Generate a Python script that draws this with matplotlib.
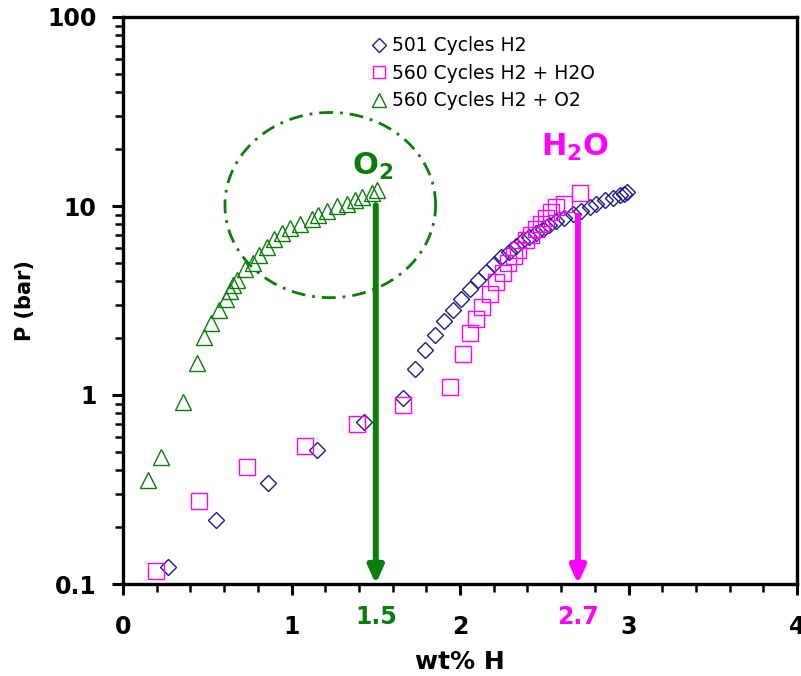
import numpy as np
import matplotlib
matplotlib.use("Agg")
import matplotlib.pyplot as plt

# 501 cycles, pure H2
h2_wt = [0.265, 0.55, 0.859, 1.153, 1.432, 1.664, 1.733, 1.79, 1.853, 1.907, 1.958, 2.008,
         2.058, 2.109, 2.153, 2.2, 2.246, 2.29, 2.33, 2.37, 2.41, 2.45, 2.49, 2.53, 2.571,
         2.62, 2.67, 2.72, 2.77, 2.81, 2.86, 2.91, 2.95, 2.975, 2.99]
h2_p = [0.123, 0.217, 0.344, 0.51, 0.72, 0.96, 1.37, 1.74, 2.08, 2.46, 2.83, 3.23,
        3.62, 4.05, 4.49, 4.92, 5.34, 5.74, 6.11, 6.5, 6.84, 7.22, 7.59, 7.94, 8.28,
        8.69, 9.06, 9.44, 9.93, 10.3, 10.7, 11.0, 11.4, 11.6, 11.9]

# 560 cycles, H2 + H2O
h2o_wt = [0.196, 0.453, 0.738, 1.08, 1.39, 1.664, 1.94, 2.018, 2.058, 2.093, 2.129, 2.181,
          2.215, 2.253, 2.285, 2.32, 2.346, 2.39, 2.42, 2.45, 2.48, 2.51, 2.54, 2.57, 2.62, 2.71]
h2o_p = [0.117, 0.275, 0.414, 0.537, 0.70, 0.89, 1.1, 1.65, 2.12, 2.52, 2.91, 3.41,
         3.97, 4.43, 4.98, 5.41, 5.87, 6.57, 7.01, 7.53, 8.01, 8.69, 9.25, 9.84, 10.2, 11.7]

# 560 cycles, H2 + O2
o2_wt = [0.15, 0.225, 0.358, 0.437, 0.483, 0.52, 0.57, 0.611, 0.635, 0.655, 0.675, 0.724,
         0.773, 0.809, 0.853, 0.896, 0.942, 0.991, 1.05, 1.12, 1.159, 1.209, 1.268, 1.327,
         1.377, 1.416, 1.475, 1.505]
o2_p = [0.355, 0.47, 0.92, 1.47, 2.02, 2.39, 2.82, 3.21, 3.55, 3.82, 4.06, 4.62,
        5.01, 5.5, 6.09, 6.66, 7.17, 7.62, 8.03, 8.5, 8.96, 9.44, 10.0, 10.3,
        10.7, 11.2, 11.7, 12.2]

labels = ["501 Cycles H2", "560 Cycles H2 + H2O", "560 Cycles H2 + O2"]
x_ticks = [0, 1, 2, 3, 4]
y_ticks = [0.1, 1, 10, 100]
y_tick_labels = ["0.1", "1", "10", "100"]

# capacity markers (wt% H) and where the arrows start (bar)
o2_cap, o2_arrow_top = 1.5, 10.1
h2o_cap, h2o_arrow_top = 2.7, 8.9

navy = "#1c1c8c"
magenta = "#ff00ff"
green = "#0a7d0a"

plt.rcParams["mathtext.fontset"] = "dejavusans"

fig = plt.figure(figsize=(8.01, 6.76), dpi=100)
ax = fig.add_axes([123 / 801, 92 / 676, 674 / 801, 567 / 676])

ax.plot(h2_wt, h2_p, ls="none", marker="D", ms=8.5, mfc="none", mec=navy, mew=1.0, label=labels[0])
ax.plot(h2o_wt, h2o_p, ls="none", marker="s", ms=11.5, mfc="none", mec=magenta, mew=1.0, label=labels[1])
ax.plot(o2_wt, o2_p, ls="none", marker="^", ms=12, mfc="none", mec=green, mew=1.0, label=labels[2])

# dash-dot ellipse around the O2 plateau (drawn in wt% / log10 P space)
t = np.linspace(0, 2 * np.pi, 300)
ax.plot(1.23 + 0.625 * np.cos(t), 10 ** (1.005 + 0.49 * np.sin(t)),
        color=green, lw=2.0, ls=(0, (5, 2.5, 1, 2.5)))

for cap, top, col in [(o2_cap, o2_arrow_top, green), (h2o_cap, h2o_arrow_top, magenta)]:
    ax.annotate("", xy=(cap, 0.1), xytext=(cap, top),
                arrowprops=dict(arrowstyle="-|>,head_width=0.45,head_length=1.0",
                                lw=4.3, color=col, shrinkA=0, shrinkB=0),
                zorder=5)

ax.text(1.48, 16.2, r"$\mathbf{O_2}$", color=green, fontsize=22, ha="center", va="center")
ax.text(2.68, 20.3, r"$\mathbf{H_2O}$", color=magenta, fontsize=22, ha="center", va="center")

ax.set_yscale("log")
ax.set_xlim(0, 4)
ax.set_ylim(0.1, 100)
ax.set_xticks(x_ticks)
ax.set_xticklabels([str(v) for v in x_ticks])
ax.set_xticks(np.arange(0, 4.01, 0.2), minor=True)
ax.set_yticks(y_ticks)
ax.set_yticklabels(y_tick_labels)

for lab in ax.get_xticklabels() + ax.get_yticklabels():
    lab.set_fontweight("bold")
ax.tick_params(axis="both", which="major", direction="out", length=8, width=2.2,
               labelsize=17)
ax.tick_params(axis="x", which="major", pad=14)
ax.tick_params(axis="y", which="major", pad=11)
ax.tick_params(axis="both", which="minor", direction="out", length=6, width=1.8)
ax.yaxis.set_minor_formatter(matplotlib.ticker.NullFormatter())

for sp in ax.spines.values():
    sp.set_linewidth(2.4)

# capacity labels on the x axis
ax.text(o2_cap, -0.058, "1.5", transform=ax.get_xaxis_transform(), color=green,
        fontsize=17, fontweight="bold", ha="center", va="center")
ax.text(h2o_cap, -0.058, "2.7", transform=ax.get_xaxis_transform(), color=magenta,
        fontsize=17, fontweight="bold", ha="center", va="center")

ax.set_xlabel("wt% H", fontsize=18, fontweight="bold", labelpad=8)
ax.set_ylabel("P (bar)", fontsize=15, fontweight="bold", labelpad=9)

leg = ax.legend(loc="upper left", bbox_to_anchor=(0.358, 0.979), frameon=False,
                fontsize=13.5, markerscale=0.8, handlelength=0.8, handletextpad=0.3,
                labelspacing=0.45, borderaxespad=0)

fig.savefig("out.png", dpi=100)
